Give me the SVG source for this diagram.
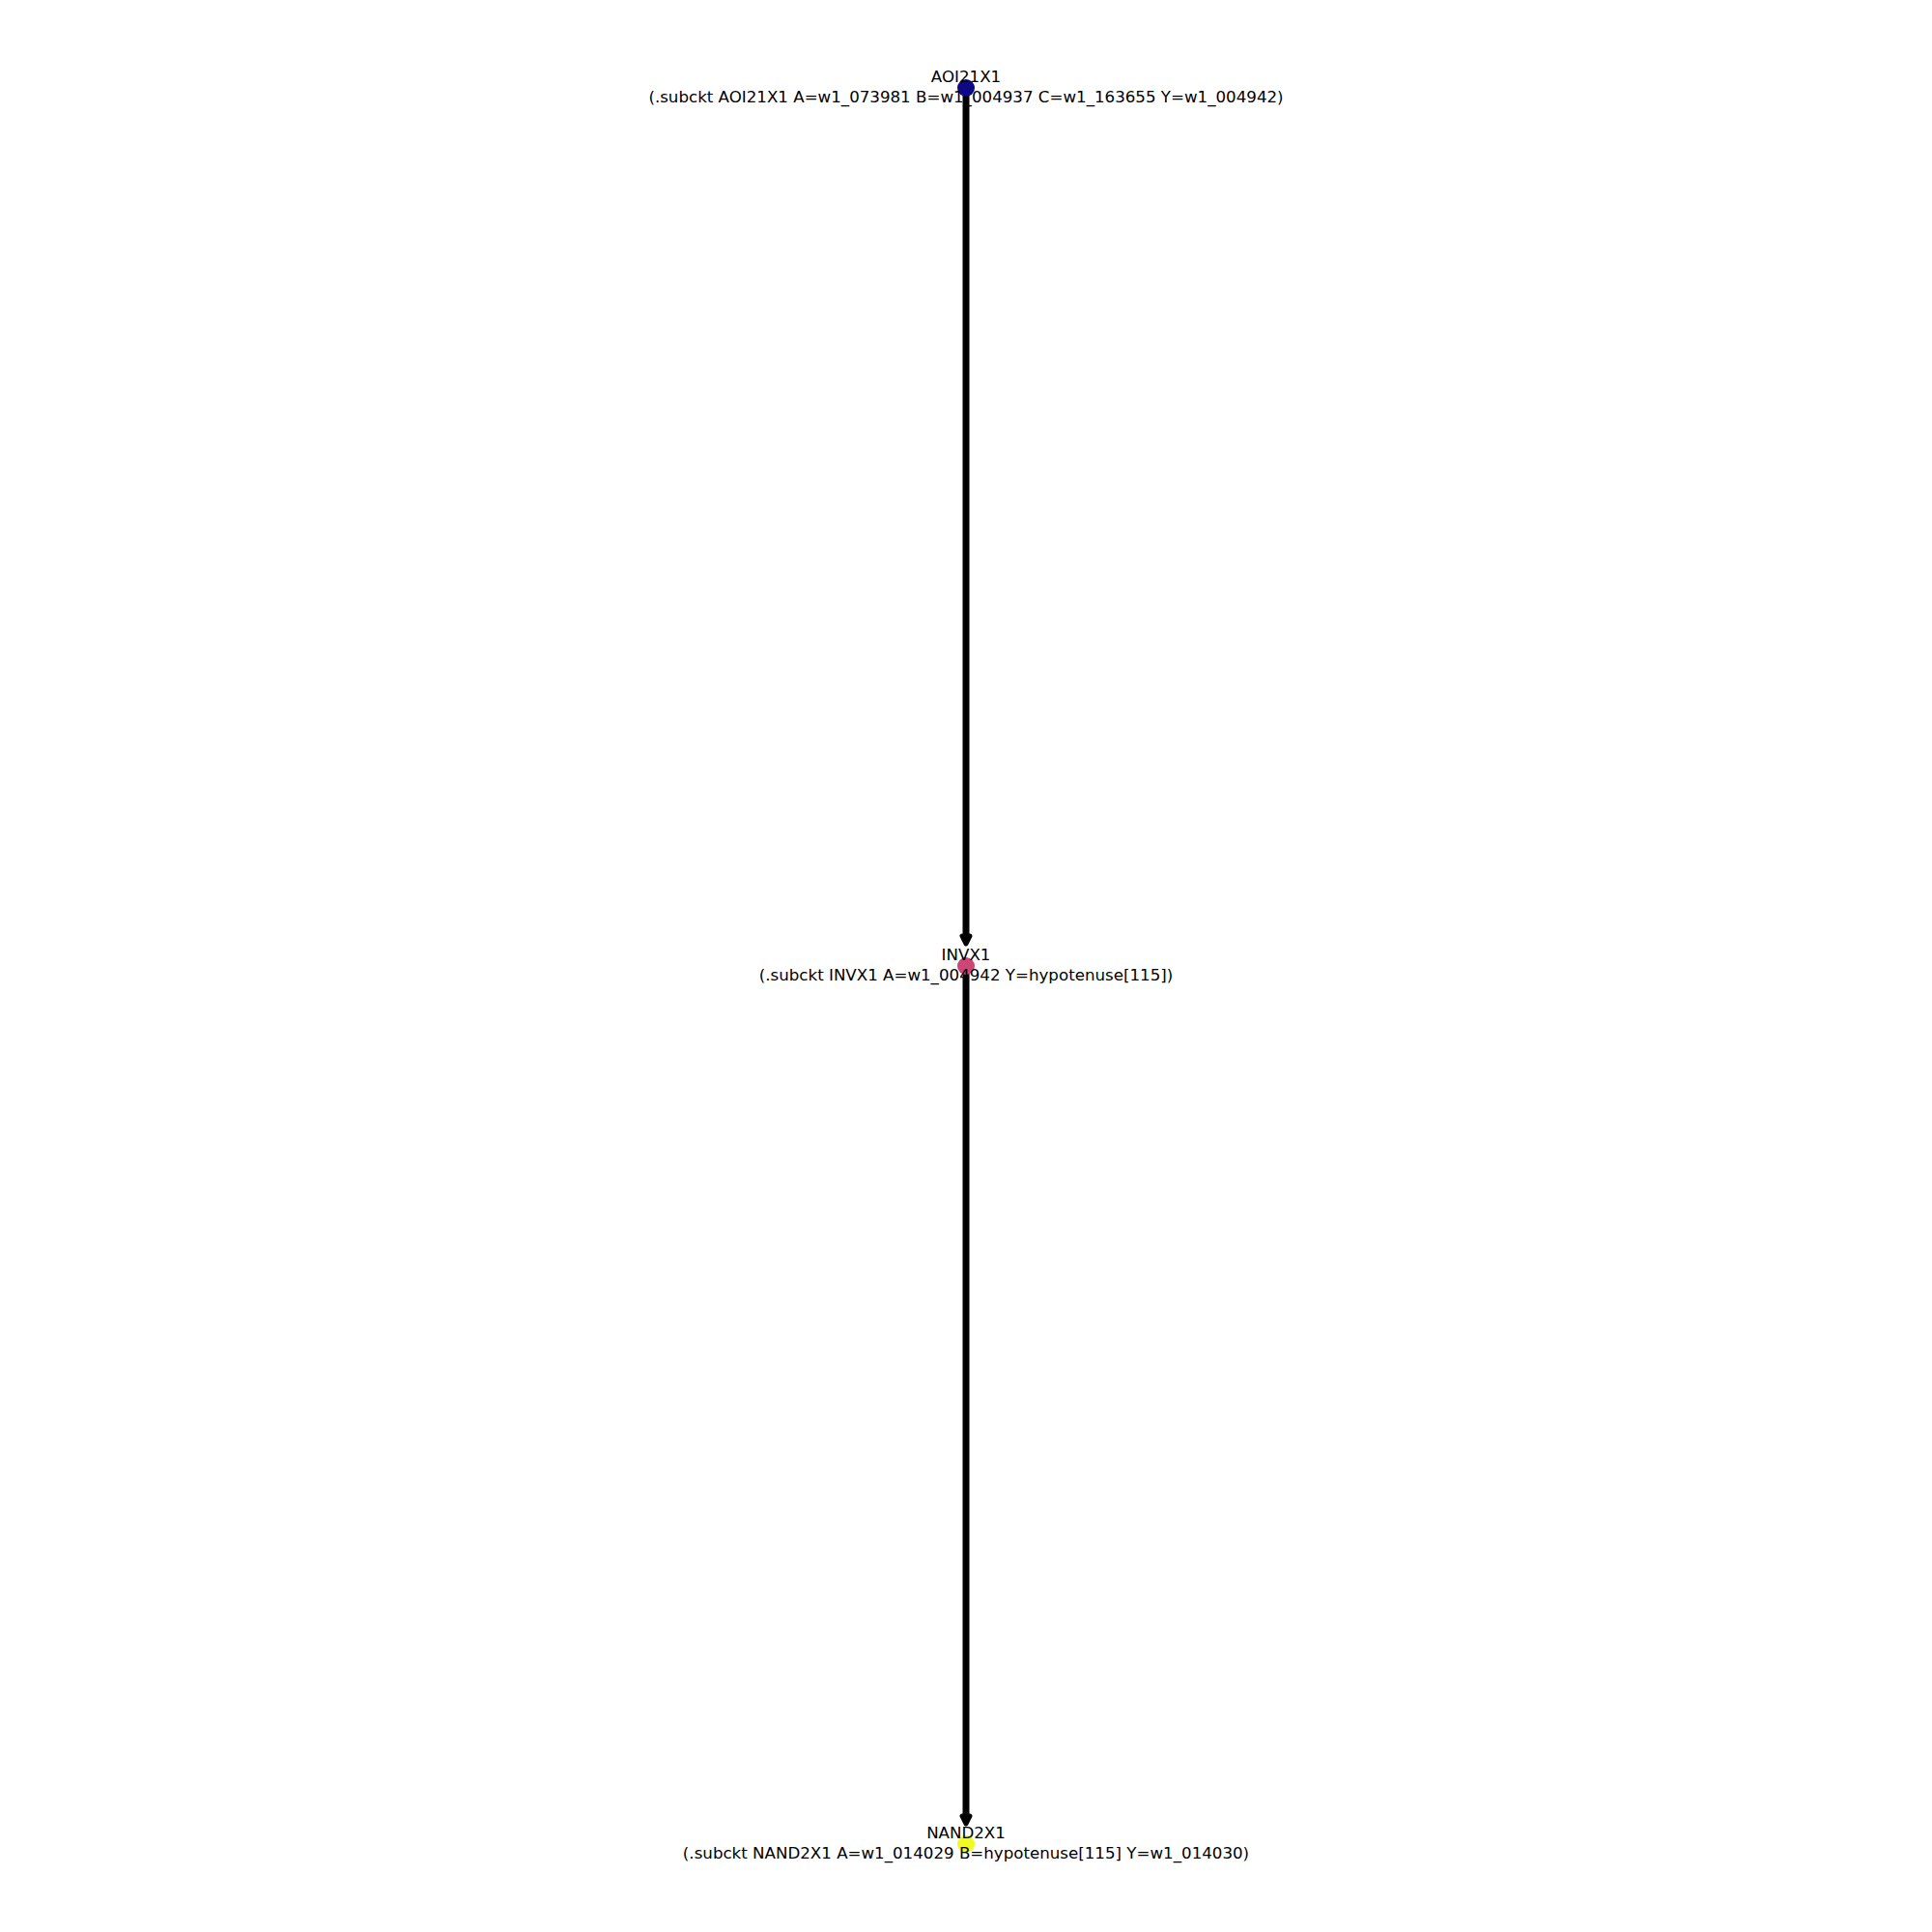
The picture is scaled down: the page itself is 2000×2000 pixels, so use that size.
<svg xmlns="http://www.w3.org/2000/svg" width="2000" height="2000" viewBox="0 0 2000 2000">
<style>
.edge{stroke:#000;stroke-width:7;fill:none}
.head{fill:#000;stroke:#000;stroke-width:5;stroke-linejoin:round}
.lbl{font-family:"DejaVu Sans",sans-serif;font-size:16.67px;fill:#000;text-anchor:middle}
</style>
<rect width="2000" height="2000" fill="#fff"/>
<g id="connectors">
<line class="edge" x1="1000" y1="91" x2="1000" y2="970"/>
<polygon class="head" points="1000,977 996,969 1004,969"/>
<line class="edge" x1="1000" y1="1000" x2="1000" y2="1881"/>
<polygon class="head" points="1000,1888 996,1880 1004,1880"/>
</g>
<g id="node-aoi21x1">
<circle cx="1000" cy="91" r="9" fill="#0d0887"/>
<text class="lbl" x="1000" y="85">AOI21X1</text>
<text class="lbl" x="1000" y="106">(.subckt AOI21X1 A=w1_073981 B=w1_004937 C=w1_163655 Y=w1_004942)</text>
</g>
<g id="node-invx1">
<circle cx="1000" cy="1000" r="9" fill="#cc4778"/>
<text class="lbl" x="1000" y="994">INVX1</text>
<text class="lbl" x="1000" y="1015">(.subckt INVX1 A=w1_004942 Y=hypotenuse[115])</text>
</g>
<g id="node-nand2x1">
<circle cx="1000" cy="1909" r="9" fill="#f0f921"/>
<text class="lbl" x="1000" y="1903">NAND2X1</text>
<text class="lbl" x="1000" y="1924">(.subckt NAND2X1 A=w1_014029 B=hypotenuse[115] Y=w1_014030)</text>
</g>
</svg>
